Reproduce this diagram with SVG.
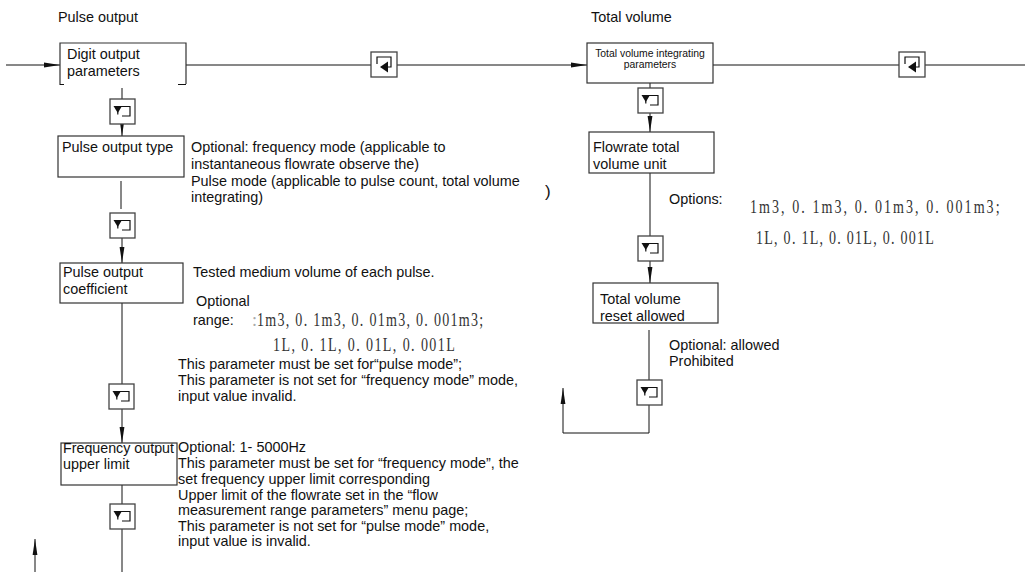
<svg xmlns="http://www.w3.org/2000/svg" width="1025" height="572" viewBox="0 0 1025 572">
<defs>
<style>
.t{font-family:"Liberation Sans",Arial,sans-serif;font-size:14.4px;fill:#111}
.s{font-family:"Liberation Sans",Arial,sans-serif;font-size:10.4px;fill:#111}
.n{font-family:"Liberation Serif","Times New Roman",serif;font-size:18px;fill:#333}
.box{fill:#fff;stroke:#333;stroke-width:1.2}
.ln{fill:none;stroke:#111;stroke-width:1}
.ib{fill:#fff;stroke:#444;stroke-width:1.3}
.ic{fill:none;stroke:#111;stroke-width:1.2}
</style>
<marker id="ah" markerWidth="16" markerHeight="8" refX="16" refY="4" orient="auto" markerUnits="userSpaceOnUse"><path d="M0,1.6 L16,4 L0,6.4 Z" fill="#111"/></marker>
<g id="iconDown"><rect class="ib" x="0" y="0" width="25" height="25"/><path class="ic" d="M12,17 H20 V7.5 H5"/><path d="M3.5,7 H12 L7.8,14 Z" fill="#111"/><path d="M7.8,12 V15.5" stroke="#111" stroke-width="1.2"/></g>
<g id="iconLeft"><rect class="ib" x="0" y="0" width="26" height="25"/><path class="ic" d="M6,12 V5 H20 V15 H15"/><path d="M17,9.5 V20.5 L9,15 Z" fill="#111"/></g>
</defs>
<rect width="1025" height="572" fill="#fff"/>

<text class="t" x="58" y="22">Pulse output</text>
<text class="t" x="591" y="22">Total volume</text>

<g id="connectors">
<line class="ln" x1="6" y1="65" x2="60" y2="65" marker-end="url(#ah)"/>
<line class="ln" x1="186" y1="65" x2="371" y2="65"/>
<line class="ln" x1="397" y1="65" x2="587" y2="65" marker-end="url(#ah)"/>
<line class="ln" x1="713" y1="65" x2="899" y2="65"/>
<line class="ln" x1="925" y1="65" x2="1025" y2="65"/>
<line class="ln" x1="122" y1="88" x2="122" y2="99"/>
<line class="ln" x1="122" y1="125" x2="122" y2="136" marker-end="url(#ah)"/>
<line class="ln" x1="121" y1="181" x2="121" y2="209"/>
<line class="ln" x1="122" y1="238" x2="122" y2="263" marker-end="url(#ah)"/>
<line class="ln" x1="122" y1="303" x2="122" y2="384"/>
<line class="ln" x1="122" y1="409" x2="122" y2="443" marker-end="url(#ah)"/>
<line class="ln" x1="122" y1="485" x2="122" y2="504"/>
<line class="ln" x1="122" y1="529" x2="122" y2="572"/>
<line class="ln" x1="35" y1="572" x2="35" y2="539" marker-end="url(#ah)"/>
<line class="ln" x1="650" y1="83" x2="650" y2="88"/>
<line class="ln" x1="650" y1="113" x2="650" y2="132" marker-end="url(#ah)"/>
<line class="ln" x1="650" y1="173" x2="650" y2="236"/>
<line class="ln" x1="650" y1="261" x2="650" y2="283" marker-end="url(#ah)"/>
<line class="ln" x1="649" y1="330" x2="649" y2="380"/>
<path class="ln" d="M649,404 V433 H563 V388" marker-end="url(#ah)"/>
</g>

<g id="icons">
<use href="#iconLeft" x="371" y="52"/>
<use href="#iconLeft" x="899" y="52"/>
<use href="#iconDown" x="110" y="99"/>
<use href="#iconDown" x="110" y="213"/>
<use href="#iconDown" x="109" y="384"/>
<use href="#iconDown" x="110" y="504"/>
<use href="#iconDown" x="638" y="88"/>
<use href="#iconDown" x="638" y="236"/>
<use href="#iconDown" x="637" y="380"/>
</g>

<g id="digit-output">
<path class="box" d="M60,85 V43 H186 V84" fill="none"/>
<path class="ln" d="M60,84.5 H64 M178,84.5 H186" stroke="#333"/>
<text class="t" x="67" y="59">Digit output</text>
<text class="t" x="67" y="76">parameters</text>
</g>

<g id="pulse-output-type">
<rect class="box" x="58" y="136" width="126" height="41"/>
<text class="t" x="62" y="152">Pulse output type</text>
<text class="t" x="191" y="152">Optional: frequency mode (applicable to</text>
<text class="t" x="191" y="169">instantaneous flowrate observe the)</text>
<text class="t" x="191" y="186">Pulse mode (applicable to pulse count, total volume</text>
<text class="t" x="191" y="202">integrating)</text>
<text class="t" x="545" y="197" style="font-size:17px">)</text>
</g>

<g id="pulse-output-coefficient">
<rect class="box" x="60" y="263" width="123" height="40"/>
<text class="t" x="63" y="277">Pulse output</text>
<text class="t" x="63" y="294">coefficient</text>
<text class="t" x="193" y="277">Tested medium volume of each pulse.</text>
<text class="t" x="196" y="306">Optional</text>
<text class="t" x="193" y="325">range:</text>
<text class="n" x="252" y="326" style="fill:#aaa">:</text>
<text class="n" transform="translate(257,326) scale(0.78,1)" x="0" y="0" textLength="290" lengthAdjust="spacing">1m3, 0. 1m3, 0. 01m3, 0. 001m3;</text>
<text class="n" transform="translate(273,351) scale(0.78,1)" x="0" y="0" textLength="233" lengthAdjust="spacing">1L, 0. 1L, 0. 01L, 0. 001L</text>
<text class="t" x="178" y="369">This parameter must be set for“pulse mode”;</text>
<text class="t" x="178" y="385">This parameter is not set for  “frequency mode” mode,</text>
<text class="t" x="178" y="401">input value invalid.</text>
</g>

<g id="frequency-output-upper-limit">
<rect class="box" x="61" y="443" width="116" height="42"/>
<text class="t" x="63" y="453" textLength="111" lengthAdjust="spacingAndGlyphs">Frequency output</text>
<text class="t" x="63" y="469">upper limit</text>
<text class="t" x="178" y="452">Optional: 1- 5000Hz</text>
<text class="t" x="178" y="468">This parameter must be set for  “frequency mode”, the</text>
<text class="t" x="178" y="484">set frequency upper limit corresponding</text>
<text class="t" x="178" y="500">Upper limit of the flowrate set in the  “flow</text>
<text class="t" x="178" y="515">measurement range parameters” menu page;</text>
<text class="t" x="178" y="531">This parameter is not set for  “pulse mode” mode,</text>
<text class="t" x="178" y="546">input value is invalid.</text>
</g>

<g id="total-volume-integrating">
<rect class="box" x="587" y="43" width="126" height="40"/>
<text class="s" x="650" y="57" text-anchor="middle">Total volume integrating</text>
<text class="s" x="650" y="68" text-anchor="middle">parameters</text>
</g>

<g id="flowrate-total-volume-unit">
<rect class="box" x="589" y="132" width="125" height="41"/>
<text class="t" x="593" y="152">Flowrate total</text>
<text class="t" x="593" y="169">volume unit</text>
<text class="t" x="669" y="204">Options:</text>
<text class="n" transform="translate(750,213) scale(0.78,1)" x="0" y="0" textLength="320" lengthAdjust="spacing">1m3, 0. 1m3, 0. 01m3, 0. 001m3;</text>
<text class="n" transform="translate(756,244) scale(0.78,1)" x="0" y="0" textLength="228" lengthAdjust="spacing">1L, 0. 1L, 0. 01L, 0. 001L</text>
</g>

<g id="total-volume-reset">
<rect class="box" x="593" y="283" width="125" height="40"/>
<text class="t" x="600" y="304">Total volume</text>
<text class="t" x="600" y="321">reset allowed</text>
<text class="t" x="669" y="350">Optional: allowed</text>
<text class="t" x="669" y="366">Prohibited</text>
</g>
</svg>
